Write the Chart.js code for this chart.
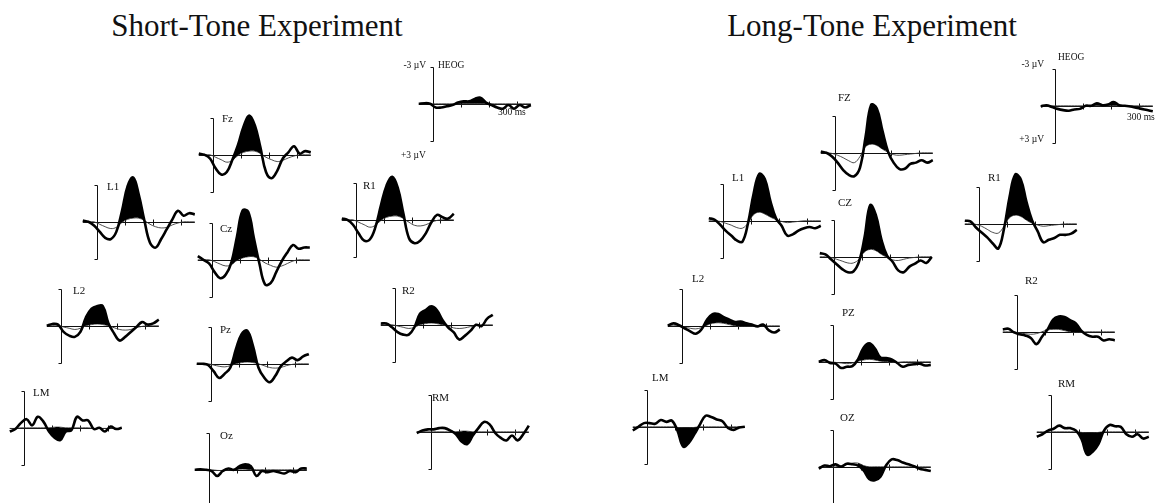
<!DOCTYPE html>
<html>
<head>
<meta charset="utf-8">
<script src="https://cdn.jsdelivr.net/npm/chart.js@4.4.1/dist/chart.umd.min.js"></script>
<style>
html, body { margin:0; padding:0; background:#fff; overflow:hidden; }
#fig { position:relative; width:1161px; height:503px; font-family:"Liberation Serif","Times New Roman",serif; color:#111; }
#fig canvas { position:absolute; }
.t { position:absolute; white-space:nowrap; line-height:1; }
.title { font-size:31px; transform:translateX(-50%); }
.lab { font-size:11px; }
.cal { font-size:9.5px; }
.r { transform:translateX(-100%); }
</style>
</head>
<body>
<div id="fig"></div>
<script>
// sample times (ms)
var times = [-50,-30,-10,10,30,50,70,90,110,130,150,170,190,210,230,250,270,290,310,330,350]
var tickTimes = [100,200,300]
var calUV = 3

// Short-Tone experiment, thick = deviant, thin = standard (uV, negative up)
var stFz   = [-0.1,0,0.3,1.1,1.6,1.4,0.4,-0.8,-2.3,-3.2,-2.4,-0.6,1.4,1.9,1.3,0.3,-0.2,-0.7,-0.1,-0.3,-0.2]
var stL1   = [-0.1,0,0.3,0.8,1.3,1.4,0.8,-0.9,-2.9,-3.6,-2.2,-0.1,1.7,2.1,1.4,0.6,-0.2,-0.9,-0.5,-0.7,-0.6]
var stCz   = [-0.3,0,0.3,1.0,1.5,1.2,0.2,-1.9,-4.0,-3.9,-1.8,0.3,2.0,1.9,1.0,0.1,-0.6,-1.2,-0.9,-1.0,-1.0]
var stR1   = [-0.1,0,0.4,1.1,1.7,1.6,0.6,-1.2,-2.8,-3.5,-2.6,-0.5,1.5,1.9,1.7,1.1,0.2,-0.4,-0.2,-0.1,-0.5]
var stL2   = [0,-0.15,-0.1,0.5,0.8,0.9,0.5,-0.7,-1.4,-1.6,-1.6,-0.2,0.6,1.2,0.9,0.5,0.1,-0.3,-0.1,-0.2,-0.5]
var stR2   = [-0.1,-0.1,0.2,0.6,0.8,0.8,0.2,-0.9,-1.2,-1.5,-1.2,-0.4,0.2,0.6,1.2,0.9,0.5,0,0.1,-0.5,-0.8]
var stPz   = [0,0,0.1,0.6,1.15,0.8,0.3,-1.2,-2.4,-2.7,-1.5,0.3,1.1,1.5,1.0,0.2,-0.2,-0.5,-0.3,-0.6,-0.8]
var stLM   = [0.3,0.1,-0.4,-0.7,-0.2,-0.9,-0.5,0.3,0.8,1.0,0.3,0.2,-0.9,-0.6,-0.6,0.1,0,0.3,-0.1,0.1,0]
var stRM   = [0.1,-0.1,-0.2,-0.2,-0.3,-0.3,-0.1,0.2,0.8,1.0,0.3,-0.3,-0.8,-0.6,0.1,0.5,0.7,0.3,0.7,0.2,-0.5]
var stOz   = [0,-0.05,0,0.1,0.5,0.1,-0.1,0,-0.3,-0.45,-0.3,0.5,0.1,0.2,0.1,0.2,0.3,0.1,0.2,-0.1,-0.1]
var stHeog = [0,-0.05,0,0.3,0.3,0.2,0.1,-0.1,-0.2,-0.2,-0.4,-0.5,-0.1,0.1,0.3,0.4,0.1,0.4,0.1,0.3,0.1]

var stFzThin   = [0,0,0,0.2,0.4,0.6,0.45,0.05,-0.2,-0.3,-0.3,-0.1,0.2,0.4,0.55,0.45,0.25,0.1,0,0,0]
var stL1Thin   = [0,0,0,0.2,0.4,0.55,0.45,0.05,-0.2,-0.3,-0.3,-0.1,0.2,0.4,0.5,0.45,0.25,0.1,0,0,0]
var stCzThin   = [0,0,0,0.15,0.35,0.5,0.4,0.05,-0.15,-0.25,-0.25,-0.05,0.25,0.45,0.6,0.5,0.3,0.1,0,0,0]
var stR1Thin   = [0,0,0,0.2,0.4,0.6,0.45,0.05,-0.2,-0.3,-0.3,-0.1,0.2,0.45,0.5,0.4,0.2,0.05,0,0,0]
var stL2Thin   = [0,0,0,0.1,0.2,0.3,0.2,0,-0.1,-0.15,-0.1,0,0.15,0.3,0.35,0.3,0.15,0.05,0,0,0]
var stR2Thin   = [0,0,0,0.1,0.2,0.3,0.2,0,-0.1,-0.15,-0.1,0,0.1,0.25,0.3,0.25,0.15,0.05,0,0,0]
var stPzThin   = [0,0,0,0.1,0.2,0.25,0.15,0,-0.1,-0.15,-0.1,0,0.15,0.3,0.35,0.3,0.15,0.05,0,0,0]
var stLMThin   = [0.05,0.05,0,0,0,0,0,0,-0.05,-0.05,0,0,0,0,0,0.05,0.05,0.05,0.05,0.05,0.05]
var stRMThin   = [0,0,0,0,0,0,0,0,-0.05,-0.05,0,0,0,0,0,0,0,0,0,0,0]
var stOzThin   = [0,0,0,0,0.05,0.05,0,0,-0.05,-0.05,0,0,0,0,0,0,0,0,0,0,0]
var stHeogThin = [0,0,0,0,0,0,0,0,0,0,0,0,0,0,0,0,0,0,0,0,0]

// Long-Tone experiment
var ltFZ   = [-0.1,0,0.3,0.8,1.4,1.8,1.9,1.2,-1.3,-3.9,-3.6,-1.8,-0.1,0.8,1.3,1.3,0.9,0.8,0.6,0.8,0.6]
var ltL1   = [-0.2,-0.1,0.3,0.8,1.2,1.6,1.7,0.2,-2.2,-3.8,-3.4,-1.6,-0.2,0.4,1.2,1.1,0.8,0.6,0.5,0.6,0.4]
var ltCZ   = [-0.3,-0.2,0.2,0.6,1.0,1.25,1.2,0.4,-1.6,-4.2,-3.4,-1.4,-0.1,0.4,1.1,1.25,0.8,0.55,0.3,0.5,0.0]
var ltR1   = [-0.25,-0.2,0.3,0.7,1.1,1.6,2.0,0.4,-2.2,-4.0,-3.6,-1.8,-0.3,0.6,1.5,1.3,1.15,0.9,0.9,0.8,0.5]
var ltL2   = [0,-0.2,-0.05,0.2,0.45,0.65,0.3,-0.5,-0.95,-0.95,-0.7,-0.5,-0.3,-0.35,-0.2,-0.1,0.05,-0.1,0.35,0.55,0.3]
var ltR2   = [-0.2,-0.25,0.05,0.2,0.3,0.5,1.0,0.4,-0.2,-1.0,-1.25,-1.2,-0.95,-0.7,-0.1,0.25,0.4,0.4,0.7,0.6,0.7]
var ltPZ   = [0,-0.15,0.1,0.15,0.5,0.4,0.35,-0.2,-1.15,-1.5,-1.1,-0.35,-0.3,-0.2,0.1,0.4,0.25,0.2,0.15,0.3,0.25]
var ltLM   = [0.3,0,-0.3,-0.3,-0.25,-0.55,-0.4,-0.5,0.35,1.6,1.3,0.6,-0.2,-0.9,-0.8,-0.6,-0.45,0.1,0.25,0.05,0]
var ltRM   = [0.4,0.2,-0.1,-0.25,-0.5,-0.3,-0.3,-0.1,0.6,1.85,1.6,1.0,-0.1,-0.55,-0.45,-0.4,0.2,0.4,0.2,0.55,0.4]
var ltOZ   = [0.15,-0.1,-0.05,-0.2,0,-0.25,-0.2,-0.1,0.3,1.0,1.1,0.8,-0.1,-0.6,-0.55,-0.35,-0.2,-0.05,0.15,0.25,0.35]
var ltHeog = [0.05,-0.05,0.1,0.25,0.35,0.4,0.3,0.25,0,0,-0.2,-0.05,-0.1,-0.3,-0.05,0,0.05,0.15,0.25,0.35,0.45]

var ltFZThin   = [0,0,0.05,0.2,0.4,0.65,0.8,0.3,-0.5,-0.7,-0.6,-0.3,-0.05,0.15,0.2,0.15,0.1,0.05,0,0,0]
var ltL1Thin   = [0,0,0.05,0.2,0.35,0.55,0.6,0.2,-0.5,-0.7,-0.55,-0.3,-0.1,0.05,0.15,0.1,0.05,0,0,0,0]
var ltCZThin   = [0,0,0.05,0.2,0.35,0.5,0.5,0.2,-0.4,-0.6,-0.5,-0.2,0.05,0.25,0.3,0.2,0.1,0.05,0,0,0]
var ltR1Thin   = [0,0,0.05,0.2,0.45,0.7,0.75,0.2,-0.5,-0.7,-0.6,-0.3,-0.05,0.1,0.2,0.15,0.1,0.05,0,0,0]
var ltL2Thin   = [0,0,0,0.1,0.2,0.25,0.15,-0.05,-0.2,-0.25,-0.2,-0.1,0,0.05,0.05,0.05,0,0,0,0,0]
var ltR2Thin   = [0,0,0,0.1,0.15,0.2,0.15,0,-0.15,-0.2,-0.2,-0.1,0,0.05,0.05,0,0,0,0,0,0]
var ltPZThin   = [0,0,0,0.05,0.1,0.15,0.1,-0.05,-0.15,-0.2,-0.15,-0.05,0,0.05,0.05,0,0,0,0,0,0]
var ltLMThin   = [0,0,0,0,0,0,0,0,0.05,0.1,0.1,0.05,0,0,0,0,0,0,0,0,0]
var ltRMThin   = [0,0,0,0,0,0,0,0,0.05,0.1,0.1,0.05,0,0,0,0,0,0,0,0,0]
var ltOZThin   = [0,0,0,0,-0.1,-0.2,-0.3,-0.3,-0.1,0,0,0,0,0,0,0,0,0,0,0,0]
var ltHeogThin = [0,0,0,0,0,0,0,0,0,0,0,0,0,0,0,0,0,0,0,0,0]

// plot placement: ax = x of 0 ms, base = y of 0 uV, label pos, shaded window (ms)
var plots = [
	{ name:'HEOG', ax:433, base:104, lx:438, ly:66, thick:stHeog, thin:stHeogThin, win:[90,190], pos:false },
	{ name:'Fz', ax:213, base:155, lx:222, ly:118, thick:stFz, thin:stFzThin, win:[70,190], pos:false },
	{ name:'L1', ax:97, base:222, lx:107, ly:186, thick:stL1, thin:stL1Thin, win:[70,190], pos:false },
	{ name:'Cz', ax:212, base:260, lx:220, ly:228, thick:stCz, thin:stCzThin, win:[70,190], pos:false },
	{ name:'R1', ax:356, base:220, lx:363, ly:185, thick:stR1, thin:stR1Thin, win:[70,190], pos:false },
	{ name:'L2', ax:61, base:326, lx:73, ly:290, thick:stL2, thin:stL2Thin, win:[70,190], pos:false },
	{ name:'Pz', ax:211, base:364, lx:220, ly:329, thick:stPz, thin:stPzThin, win:[70,170], pos:false },
	{ name:'R2', ax:395, base:325, lx:402, ly:290, thick:stR2, thin:stR2Thin, win:[70,190], pos:false },
	{ name:'LM', ax:24, base:428, lx:33, ly:392, thick:stLM, thin:stLMThin, win:[70,170], pos:true },
	{ name:'Oz', ax:209, base:470, lx:220, ly:435, thick:stOz, thin:stOzThin, win:[90,170], pos:false },
	{ name:'RM', ax:431, base:432, lx:432, ly:397, thick:stRM, thin:stRMThin, win:[70,170], pos:true },

	{ name:'HEOG', ax:1055, base:106, lx:1058, ly:58, thick:ltHeog, thin:ltHeogThin, win:[130,270], pos:false },
	{ name:'FZ', ax:835, base:153, lx:838, ly:97, thick:ltFZ, thin:ltFZThin, win:[90,210], pos:false },
	{ name:'L1', ax:723, base:221, lx:732, ly:177, thick:ltL1, thin:ltL1Thin, win:[90,210], pos:false },
	{ name:'CZ', ax:834, base:257, lx:838, ly:202, thick:ltCZ, thin:ltCZThin, win:[90,210], pos:false },
	{ name:'R1', ax:979, base:224, lx:988, ly:177, thick:ltR1, thin:ltR1Thin, win:[90,210], pos:false },
	{ name:'L2', ax:682, base:326, lx:692, ly:278, thick:ltL2, thin:ltL2Thin, win:[70,290], pos:false },
	{ name:'PZ', ax:833, base:362, lx:842, ly:312, thick:ltPZ, thin:ltPZThin, win:[90,230], pos:false },
	{ name:'R2', ax:1017, base:332, lx:1025, ly:280, thick:ltR2, thin:ltR2Thin, win:[90,250], pos:false },
	{ name:'LM', ax:647, base:427, lx:652, ly:377, thick:ltLM, thin:ltLMThin, win:[90,190], pos:true },
	{ name:'OZ', ax:833, base:467, lx:840, ly:417, thick:ltOZ, thin:ltOZThin, win:[90,190], pos:true },
	{ name:'RM', ax:1051, base:432, lx:1058, ly:383, thick:ltRM, thin:ltRMThin, win:[90,190], pos:true }
]

var PX_MS = 0.28
var PX_UV = 12.3
var X_MIN = -60
var Y_MIN = -6
var CW = 118
var CH = 124
var fig = document.getElementById('fig')

function addText( txt, cls, x, y ) {
	var d = document.createElement('div')
	d.className = 't ' + cls
	d.textContent = txt
	d.style.left = x + 'px'
	d.style.top = y + 'px'
	fig.appendChild(d)
}

function toPoints( vals, win ) {
	return times.map(function(t, i) {
		var inside = !win || (t >= win[0] && t <= win[1])
		return { x:t, y: inside ? vals[i] : null }
	})
}

var erpAxes = {
	id: 'erpAxes',
	beforeDatasetsDraw: function(chart) {
		var c = chart.ctx
		var xs = chart.scales.x, ys = chart.scales.y
		var x0 = Math.round(xs.getPixelForValue(0)) + 0.5
		var y0 = Math.round(ys.getPixelForValue(0)) + 0.5
		var yt = Math.round(ys.getPixelForValue(-calUV)) + 0.5
		var yb = Math.round(ys.getPixelForValue(calUV)) + 0.5
		c.save()
		c.strokeStyle = '#111'
		c.lineWidth = 1
		c.beginPath()
		c.moveTo(xs.getPixelForValue(times[0]), y0)
		c.lineTo(xs.getPixelForValue(times[times.length-1]), y0)
		c.moveTo(x0, yt)
		c.lineTo(x0, yb)
		c.moveTo(x0 - 3, yt)
		c.lineTo(x0, yt)
		c.moveTo(x0 - 3, yb)
		c.lineTo(x0, yb)
		tickTimes.forEach(function(t) {
			var xt = Math.round(xs.getPixelForValue(t)) + 0.5
			c.moveTo(xt, y0 - 3)
			c.lineTo(xt, y0 + 3)
		})
		c.stroke()
		c.restore()
	}
}

function makePlot( p ) {
	var cv = document.createElement('canvas')
	cv.width = CW
	cv.height = CH
	cv.style.left = (p.ax + X_MIN * PX_MS) + 'px'
	cv.style.top = (p.base + Y_MIN * PX_UV) + 'px'
	fig.appendChild(cv)
	var none = 'rgba(0,0,0,0)'
	new Chart(cv, {
		type: 'line',
		data: {
			datasets: [
				{
					label: 'standard',
					data: toPoints(p.thin),
					borderColor: '#3a3a3a',
					borderWidth: 0.9,
					pointRadius: 0,
					tension: 0.4,
					fill: false,
					order: 3
				}, {
					label: 'deviant',
					data: toPoints(p.thick),
					borderColor: '#000',
					borderWidth: 2.6,
					pointRadius: 0,
					tension: 0.4,
					fill: false,
					order: 1
				}, {
					label: 'mmn',
					data: toPoints(p.thick, p.win),
					borderColor: none,
					borderWidth: 0,
					pointRadius: 0,
					tension: 0.4,
					spanGaps: false,
					fill: { target: 0, above: p.pos ? none : '#000', below: p.pos ? '#000' : none },
					order: 2
				}
			]
		},
		options: {
			responsive: false,
			animation: false,
			devicePixelRatio: 1,
			events: [],
			layout: { padding: 0 },
			plugins: { legend: { display:false }, tooltip: { enabled:false } },
			scales: {
				x: { type:'linear', min:X_MIN, max:X_MIN + CW / PX_MS, display:false },
				y: { type:'linear', min:Y_MIN, max:Y_MIN + CH / PX_UV, reverse:true, display:false }
			}
		},
		plugins: [erpAxes]
	})
	addText(p.name, p.name == 'HEOG' ? 'cal' : 'lab', p.lx, p.ly - 5.5)
}

addText('Short-Tone Experiment', 'title', 257, 10)
addText('Long-Tone Experiment', 'title', 872, 10)

plots.forEach(makePlot)

// calibration text of the two HEOG plots
addText('-3 \u00b5V', 'cal r', 426, 61)
addText('+3 \u00b5V', 'cal', 401, 151)
addText('300 ms', 'cal', 498, 108)
addText('-3 \u00b5V', 'cal r', 1044, 60)
addText('+3 \u00b5V', 'cal r', 1044, 135)
addText('300 ms', 'cal', 1127, 113)
</script>
</body>
</html>
